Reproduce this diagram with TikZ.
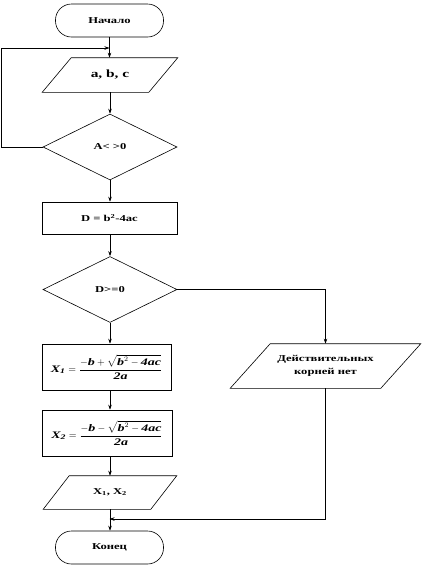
\documentclass[tikz,border=0pt]{standalone}
\usepackage{amsmath}
\usepackage{fontspec}
\setmainfont{Liberation Serif}
\newfontfamily\wfont[FakeStretch=1.4]{Liberation Serif}
\usetikzlibrary{shapes.geometric,arrows.meta,calc}
\newcommand\mi[1]{\text{\itshape #1}}
\newcommand\fmA{\mbox{$\displaystyle \mi{X}_{\mi{1}}=\frac{-\mi{b}+\sqrt{\mi{b}^{2}-\mi{4ac}}}{\mi{2a}}$}}
\newcommand\fmB{\mbox{$\displaystyle \mi{X}_{\mi{2}}=\frac{-\mi{b}-\sqrt{\mi{b}^{2}-\mi{4ac}}}{\mi{2a}}$}}
\newcommand\fsmall{\wfont\bfseries\fontsize{9}{13}\selectfont}
\newcommand\fbig{\wfont\bfseries\fontsize{11}{13}\selectfont}
\newcommand\fform{\wfont\bfseries\fontsize{10}{12}\selectfont}
\tikzset{
  base/.style={font=\fsmall, line width=0.6pt, inner sep=0pt, align=center},
  term/.style={base, draw, rounded corners=16pt, minimum width=108pt, minimum height=33pt},
  proc/.style={base, draw},
  dec/.style={base, draw, diamond, minimum width=134pt, minimum height=66pt},
  io/.style={base},
  conn/.style={line width=0.6pt, -{Stealth[length=5pt,width=3.5pt]}},
  plain/.style={line width=0.6pt},
}
\begin{document}
\begin{tikzpicture}[x=1pt,y=-1pt]
\useasboundingbox (0,0) rectangle (422,566);
% nodes
\node[term] (start) at (109.5,20.5) {Начало};
\node[io, minimum width=106pt, minimum height=34pt, font=\fbig] (in1) at (110,75) {a, b, c};
\node[dec] (d1) at (110,147) {A< >0};
\node[proc, minimum width=135pt, minimum height=32pt] (calc) at (109.5,218) {D = b\textsuperscript{2}-4ac};
\node[dec] (d2) at (110,289.5) {D>=0};
\node[proc, minimum width=129pt, minimum height=46pt, font=\fform] (xa) at (106.5,367) {\fmA};
\node[proc, minimum width=130pt, minimum height=46pt, font=\fform] (xb) at (107,433) {\fmB};
\node[io, minimum width=107pt, minimum height=33pt] (out) at (110,492.5) {X\textsubscript{1}, X\textsubscript{2}};
\node[term] (end) at (109.5,547.5) {Конец};
\node[io, minimum width=150pt, minimum height=44pt] (nores) at (325.5,366) {Действительных\\корней нет};
% parallelograms
\draw[plain] ([xshift=-14.5pt]in1.south west) -- ([xshift=-14.5pt]in1.south east) -- ([xshift=14.5pt]in1.north east) -- ([xshift=14.5pt]in1.north west) -- cycle;
\draw[plain] ([xshift=-13pt]out.south west) -- ([xshift=-13pt]out.south east) -- ([xshift=13pt]out.north east) -- ([xshift=13pt]out.north west) -- cycle;
\draw[plain] ([xshift=-20pt]nores.south west) -- ([xshift=-20pt]nores.south east) -- ([xshift=20pt]nores.north east) -- ([xshift=20pt]nores.north west) -- cycle;
% coordinates
\coordinate (loopin) at (109.5,48);
\coordinate (merge) at (109.5,519);
% connectors
\draw[conn] (start.south) -- (start.south |- in1.north);
\draw[conn] (d1.west) -- ++(-41,0) |- (loopin);
\draw[conn] (in1.south) -- (d1.north);
\draw[conn] (d1.south) -- (d1.south |- calc.north);
\draw[conn] (d2.north |- calc.south) -- (d2.north);
\draw[conn] (d2.south) -- (d2.south |- xa.north);
\draw[conn] (d2.south |- xa.south) -- (d2.south |- xb.north);
\draw[conn] (out.north |- xb.south) -- (out.north);
\draw[conn] (out.south) -- (out.south |- end.north);
\draw[conn] (d2.east) -| (nores.north);
\draw[conn] (nores.south) |- (merge);
\end{tikzpicture}
\end{document}
